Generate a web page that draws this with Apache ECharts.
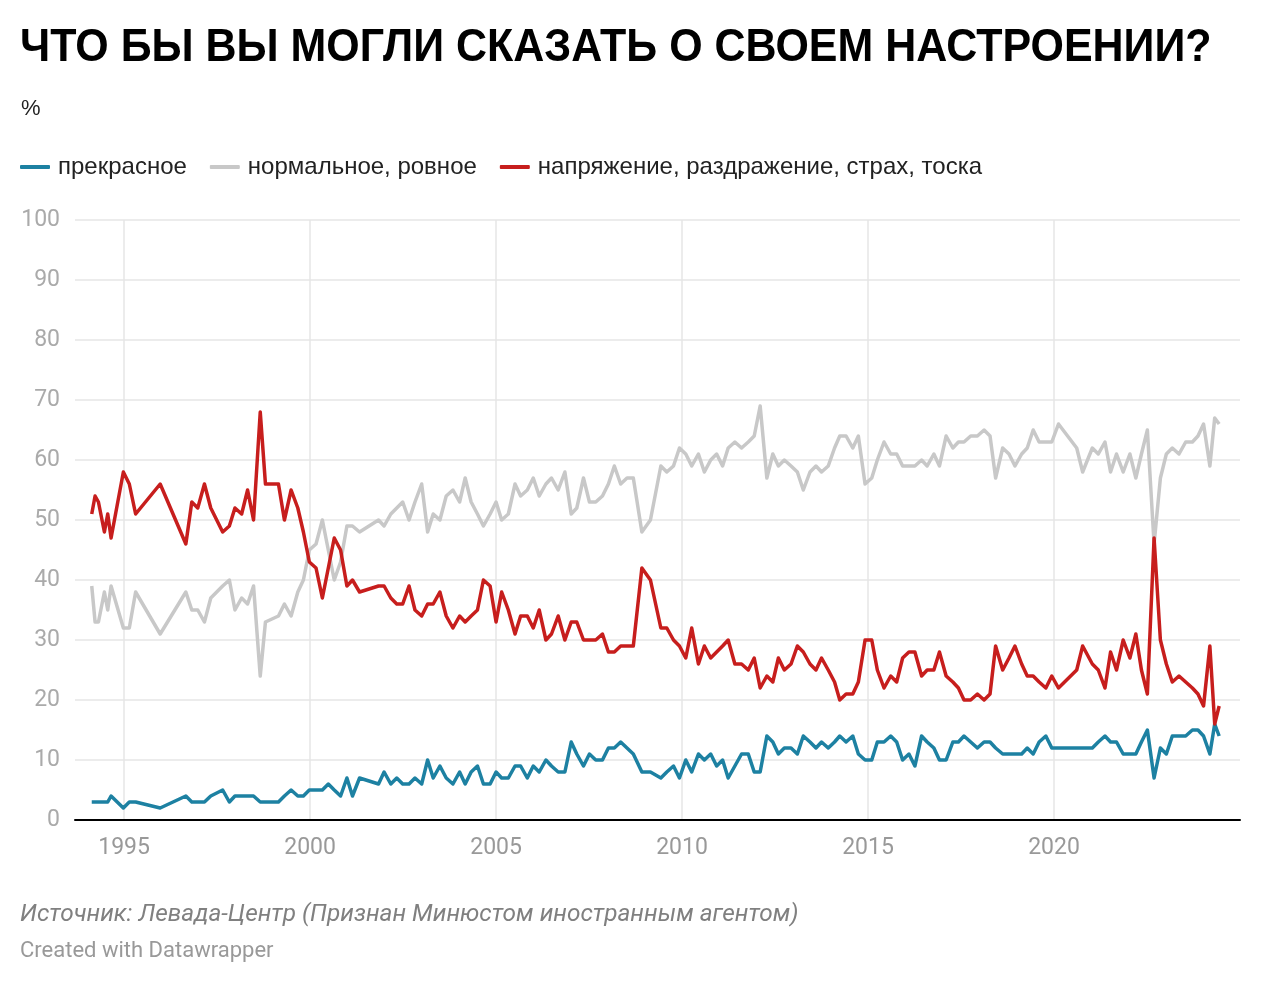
<!DOCTYPE html>
<html><head><meta charset="utf-8">
<script src="https://cdn.jsdelivr.net/npm/echarts@6/dist/echarts.min.js"></script>
<style>html,body{margin:0;padding:0;background:#fff}#c{width:1264px;height:983px}</style>
</head><body><div id="c"></div>
<script>
// survey dates (decimal years)
const dates = [
1994.13,1994.22,1994.31,1994.47,1994.56,1994.65,1994.98,1995.14,1995.31,1995.97,
1996.66,1996.82,1996.98,1997.16,1997.33,1997.65,1997.83,1997.98,1998.16,1998.32,
1998.48,1998.66,1998.80,1999.15,1999.31,1999.49,1999.67,1999.82,1999.98,2000.16,
2000.33,2000.49,2000.65,2000.82,2000.99,2001.14,2001.33,2001.84,2001.99,2002.17,
2002.33,2002.49,2002.66,2002.82,2003.00,2003.16,2003.31,2003.49,2003.66,2003.84,
2004.02,2004.17,2004.33,2004.50,2004.66,2004.84,2005.00,2005.15,2005.33,2005.51,
2005.66,2005.84,2006.00,2006.16,2006.34,2006.49,2006.67,2006.85,2007.02,2007.17,
2007.35,2007.51,2007.68,2007.86,2008.02,2008.18,2008.35,2008.52,2008.69,2008.92,
2009.15,2009.43,2009.59,2009.77,2009.93,2010.10,2010.26,2010.44,2010.60,2010.77,
2010.93,2011.09,2011.24,2011.42,2011.60,2011.78,2011.94,2012.10,2012.28,2012.44,
2012.59,2012.75,2012.93,2013.10,2013.26,2013.44,2013.60,2013.75,2013.93,2014.10,
2014.24,2014.41,2014.59,2014.74,2014.92,2015.10,2015.25,2015.43,2015.61,2015.77,
2015.93,2016.10,2016.26,2016.44,2016.59,2016.77,2016.92,2017.10,2017.28,2017.43,
2017.58,2017.76,2017.94,2018.12,2018.28,2018.43,2018.62,2018.79,2018.95,2019.13,
2019.28,2019.44,2019.60,2019.78,2019.94,2020.12,2020.61,2020.77,2021.03,2021.19,
2021.37,2021.52,2021.68,2021.86,2022.04,2022.20,2022.35,2022.51,2022.69,2022.86,
2023.02,2023.18,2023.36,2023.54,2023.72,2023.87,2024.02,2024.19,2024.32,2024.44
];
// прекрасное
const excellent = [
3,3,3,3,3,4,2,3,3,2,
4,3,3,3,4,5,3,4,4,4,
4,3,3,3,4,5,4,4,5,5,
5,6,5,4,7,4,7,6,8,6,
7,6,6,7,6,10,7,9,7,6,
8,6,8,9,6,6,8,7,7,9,
9,7,9,8,10,9,8,8,13,11,
9,11,10,10,12,12,13,12,11,8,
8,7,8,9,7,10,8,11,10,11,
9,10,7,9,11,11,8,8,14,13,
11,12,12,11,14,13,12,13,12,13,
14,13,14,11,10,10,13,13,14,13,
10,11,9,14,13,12,10,10,13,13,
14,13,12,13,13,12,11,11,11,11,
12,11,13,14,12,12,12,12,12,13,
14,13,13,11,11,11,13,15,7,12,
11,14,14,14,15,15,14,11,16,14
];
// нормальное, ровное
const normal = [
39,33,33,38,35,39,32,32,38,31,
38,35,35,33,37,39,40,35,37,36,
39,24,33,34,36,34,38,40,45,46,
50,45,40,43,49,49,48,50,49,51,
52,53,50,53,56,48,51,50,54,55,
53,57,53,51,49,51,53,50,51,56,
54,55,57,54,56,57,55,58,51,52,
57,53,53,54,56,59,56,57,57,48,
50,59,58,59,62,61,59,61,58,60,
61,59,62,63,62,63,64,69,57,61,
59,60,59,58,55,58,59,58,59,62,
64,64,62,64,56,57,60,63,61,61,
59,59,59,60,59,61,59,64,62,63,
63,64,64,65,64,57,62,61,59,61,
62,65,63,63,63,66,62,58,62,61,
63,58,61,58,61,57,61,65,46,57,
61,62,61,63,63,64,66,59,67,66
];
// напряжение, раздражение, страх, тоска
const tension = [
51,54,53,48,51,47,58,56,51,56,
46,53,52,56,52,48,49,52,51,55,
50,68,56,56,50,55,52,48,43,42,
37,42,47,45,39,40,38,39,39,37,
36,36,39,35,34,36,36,38,34,32,
34,33,34,35,40,39,33,38,35,31,
34,34,32,35,30,31,34,30,33,33,
30,30,30,31,28,28,29,29,29,42,
40,32,32,30,29,27,32,26,29,27,
28,29,30,26,26,25,27,22,24,23,
27,25,26,29,28,26,25,27,25,23,
20,21,21,23,30,30,25,22,24,23,
27,28,28,24,25,25,28,24,23,22,
20,20,21,20,21,29,25,27,29,26,
24,24,23,22,24,22,25,29,26,25,
22,28,25,30,27,31,25,21,47,30,
26,23,24,23,22,21,19,29,16,19
];
const yearTicks = [1995, 2000, 2005, 2010, 2015, 2020];
const seriesNames = ['прекрасное', 'нормальное, ровное', 'напряжение, раздражение, страх, тоска'];
const colors = ['#1d81a2', '#c8c8c8', '#c71e1d'];

const chart = echarts.init(document.getElementById('c'), null, {renderer: 'canvas'});
const pairs = arr => dates.map((d, i) => [d, arr[i]]);
const values = [excellent, normal, tension];
const zs = [3, 2, 4];

chart.setOption({
  animation: false,
  backgroundColor: '#fff',
  textStyle: {fontFamily: 'Roboto'},
  graphic: [
    {type: 'text', x: 20, y: 48, scaleX: 0.914, scaleY: 1, z: 10,
     style: {text: 'ЧТО БЫ ВЫ МОГЛИ СКАЗАТЬ О СВОЕМ НАСТРОЕНИИ?', font: 'bold 47px "Liberation Sans", Arial, sans-serif',
             fill: '#000', verticalAlign: 'middle', align: 'left'}},
    {type: 'text', x: 21, y: 109, z: 10,
     style: {text: '%', font: '22px "Liberation Sans", Arial, sans-serif', fill: '#222', verticalAlign: 'middle'}},
    {type: 'text', x: 20, y: 915, z: 10,
     style: {text: 'Источник: Левада-Центр (Признан Минюстом иностранным агентом)', font: 'italic 24.4px Roboto', fill: '#808080', verticalAlign: 'middle'}},
    {type: 'text', x: 20, y: 951, z: 10,
     style: {text: 'Created with Datawrapper', font: '22px Roboto', fill: '#999', verticalAlign: 'middle'}}
  ],
  legend: {
    left: 20, top: 155, padding: 0, icon: 'roundRect', itemWidth: 30, itemHeight: 4, itemGap: 23,
    textStyle: {fontFamily: '"Liberation Sans", Arial, sans-serif', fontSize: 24, color: '#222', padding: [0, 0, 0, 3]},
    data: seriesNames
  },
  grid: {left: 75, right: 24, top: 220, bottom: 163},
  xAxis: {
    type: 'value', min: 1993.68, max: 2025,
    axisLine: {onZero: true, lineStyle: {color: '#000', width: 2}},
    axisTick: {show: false, customValues: yearTicks},
    axisLabel: {customValues: yearTicks, formatter: v => String(v), fontFamily: 'Roboto', fontSize: 23, color: '#999', margin: 17},
    splitLine: {show: true, lineStyle: {color: '#e6e6e6', width: 1.5}}
  },
  yAxis: {
    type: 'value', min: 0, max: 100, interval: 10,
    axisLine: {show: false}, axisTick: {show: false},
    axisLabel: {fontFamily: 'Roboto', fontSize: 23, color: '#aaa', margin: 15},
    splitLine: {lineStyle: {color: '#e6e6e6', width: 1.5}}
  },
  series: seriesNames.map((n, i) => ({
    name: n, type: 'line', data: pairs(values[i]), showSymbol: false, symbol: 'none',
    z: zs[i], color: colors[i],
    lineStyle: {width: 3.5, color: colors[i], join: 'round'}
  }))
});
</script>
</body></html>
